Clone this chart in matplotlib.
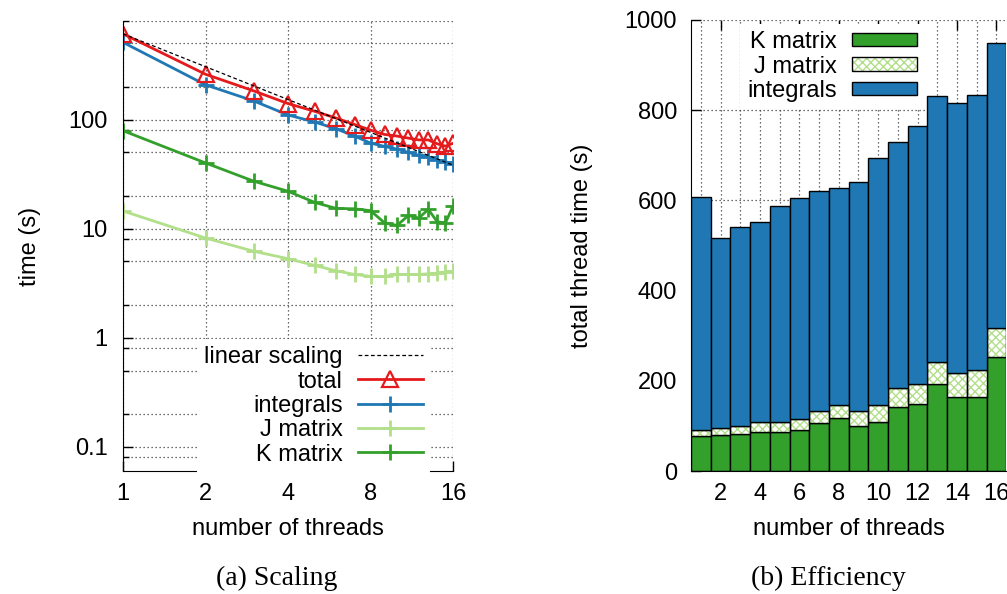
import numpy as np
import matplotlib
matplotlib.use('Agg')
import matplotlib.pyplot as plt
from matplotlib.ticker import LogLocator, FixedLocator, NullFormatter, FuncFormatter

plt.rcParams['font.family'] = ['Liberation Sans', 'DejaVu Sans']
plt.rcParams['font.size'] = 17
plt.rcParams['hatch.linewidth'] = 1.0

# wall-clock time per phase (s) against thread count
threads = np.arange(1, 17)
t_total = [610, 260, 183, 140, 119, 103, 90, 80, 73, 70.5, 67.5, 65, 65, 60, 57, 60.5]
t_integrals = [510, 208, 148, 110, 95, 82, 70.5, 60.8, 56.7, 53.5, 50, 47, 45.3, 42.7, 41, 39.5]
t_jmatrix = [14.5, 8.2, 6.2, 5.3, 4.6, 4.1, 3.8, 3.65, 3.65, 3.8, 3.8, 3.8, 3.85, 3.9, 4.0, 4.05]
t_kmatrix = [79, 40, 27.2, 22, 17.4, 15.3, 15.2, 14.6, 11.3, 10.7, 13.2, 12.5, 15, 11.6, 11.2, 16.1]

# summed thread time (s) per phase
thr_kmatrix = [78, 79, 81, 86, 86, 91, 106, 117, 100, 108, 142, 149, 193, 163, 163, 252]
thr_jmatrix = [14, 17, 19, 22, 23, 24, 26, 29, 32, 38, 41, 45, 48, 54, 60, 64]
thr_integrals = [515, 421, 442, 443, 478, 490, 488, 482, 509, 548, 547, 570, 591, 598, 611, 634]

RED = '#e41a1c'
BLUE = '#1f78b4'
LGREEN = '#b2df8a'
DGREEN = '#33a02c'

fig = plt.figure(figsize=(10.07, 5.94), dpi=100)
ax1 = fig.add_axes([123 / 1007, 123 / 594, 330 / 1007, 450 / 594])
ax2 = fig.add_axes([691 / 1007, 123 / 594, 315.2 / 1007, 451 / 594])

grid_kw = dict(color='0.25', linestyle=(0, (1, 2.2)), linewidth=0.9)

# --- scaling (log-log) ---
lk, = ax1.plot(threads, t_kmatrix, color=DGREEN, lw=2, marker='+', ms=11, mew=2, label='K matrix')
lj, = ax1.plot(threads, t_jmatrix, color=LGREEN, lw=2, marker='+', ms=11, mew=2, label='J matrix')
li, = ax1.plot(threads, t_integrals, color=BLUE, lw=2, marker='+', ms=11, mew=2, label='integrals')
lt, = ax1.plot(threads, t_total, color=RED, lw=2, marker='^', ms=12, mew=1.6, mfc='none', label='total')
lin = t_total[0] / threads
ll, = ax1.plot(threads, lin, color='k', lw=0.9, ls=(0, (3, 2)), label='linear scaling')

ax1.set_xscale('log', base=2)
ax1.set_yscale('log')
ax1.set_xlim(1, 16)
ax1.set_ylim(0.06, 800)
ax1.xaxis.set_major_locator(FixedLocator([1, 2, 4, 8, 16]))
ax1.xaxis.set_major_formatter(FuncFormatter(lambda v, p: '%d' % v))
ax1.xaxis.set_minor_formatter(NullFormatter())
ax1.yaxis.set_major_locator(FixedLocator([0.1, 1, 10, 100]))
ax1.yaxis.set_major_formatter(FuncFormatter(lambda v, p: '%g' % v))
ax1.yaxis.set_minor_locator(LogLocator(base=10, subs=(0.2, 0.5, 0.8), numticks=20))
ax1.yaxis.set_minor_formatter(NullFormatter())
ax1.grid(True, which='both', **grid_kw)
ax1.spines['top'].set_visible(False)
ax1.spines['right'].set_visible(False)
ax1.tick_params(which='major', direction='in', length=7, width=1)
ax1.tick_params(which='minor', direction='in', length=4, width=1)
ax1.tick_params(axis='x', pad=9)
ax1.tick_params(axis='y', pad=11)
ax1.set_xlabel('number of threads')
ax1.set_ylabel('time (s)')
ax1.xaxis.set_label_coords(0.5, -0.105)
ax1.yaxis.set_label_coords(-0.247, 0.5)

leg1 = ax1.legend(handles=[ll, lt, li, lj, lk], loc='lower right', bbox_to_anchor=(0.93, -0.004),
                  markerfirst=False, frameon=True, fancybox=False, edgecolor='none',
                  framealpha=1, borderpad=0.3, borderaxespad=0, handlelength=2.75,
                  handletextpad=0.65, labelspacing=0.1)
leg1.get_frame().set_linewidth(0)

# --- efficiency (stacked bars) ---
bot_j = np.array(thr_kmatrix)
bot_i = bot_j + np.array(thr_jmatrix)
bk = ax2.bar(threads, thr_kmatrix, width=1.0, color=DGREEN, edgecolor='k', lw=1, label='K matrix')
bjh = ax2.bar(threads, thr_jmatrix, bottom=bot_j, width=1.0, color='white', edgecolor=LGREEN,
              hatch='xxxx', lw=0)
bjo = ax2.bar(threads, thr_jmatrix, bottom=bot_j, width=1.0, color='none', edgecolor='k', lw=1)
bi = ax2.bar(threads, thr_integrals, bottom=bot_i, width=1.0, color=BLUE, edgecolor='k', lw=1,
             label='integrals')

ax2.set_xlim(0.5, 16.5)
ax2.set_ylim(0, 1000)
ax2.set_axisbelow(True)
ax2.set_xticks(np.arange(2, 17, 2))
ax2.set_xticks(np.arange(1, 17, 2), minor=True)
ax2.set_yticks(np.arange(0, 1001, 200))
ax2.grid(True, which='both', axis='x', **grid_kw)
ax2.grid(True, which='major', axis='y', **grid_kw)
ax2.spines['top'].set_visible(False)
ax2.spines['right'].set_visible(False)
ax2.tick_params(which='major', direction='in', length=7, width=1, top=True)
ax2.tick_params(which='minor', direction='in', length=0)
ax2.tick_params(axis='x', pad=9)
ax2.tick_params(axis='y', pad=10)
ax2.set_xlabel('number of threads')
ax2.set_ylabel('total thread time (s)')
ax2.xaxis.set_label_coords(0.5, -0.105)
ax2.yaxis.set_label_coords(-0.312, 0.5)

leg2 = ax2.legend(handles=[bk, (bjh, bjo), bi], labels=['K matrix', 'J matrix', 'integrals'],
                  loc='upper right', bbox_to_anchor=(0.739, 0.991),
                  markerfirst=False, frameon=True, fancybox=False, edgecolor='none',
                  framealpha=1, borderpad=0.3, borderaxespad=0, handlelength=2.75,
                  handleheight=0.5, handletextpad=0.65, labelspacing=0.1)
leg2.get_frame().set_linewidth(0)

fig.text(277 / 1007, 1 - 578 / 594, '(a) Scaling', family=['Liberation Serif'], fontsize=20,
         ha='center', va='center')
fig.text(828 / 1007, 1 - 578 / 594, '(b) Efficiency', family=['Liberation Serif'], fontsize=20,
         ha='center', va='center')

fig.savefig('out.png', dpi=100, facecolor='white')
